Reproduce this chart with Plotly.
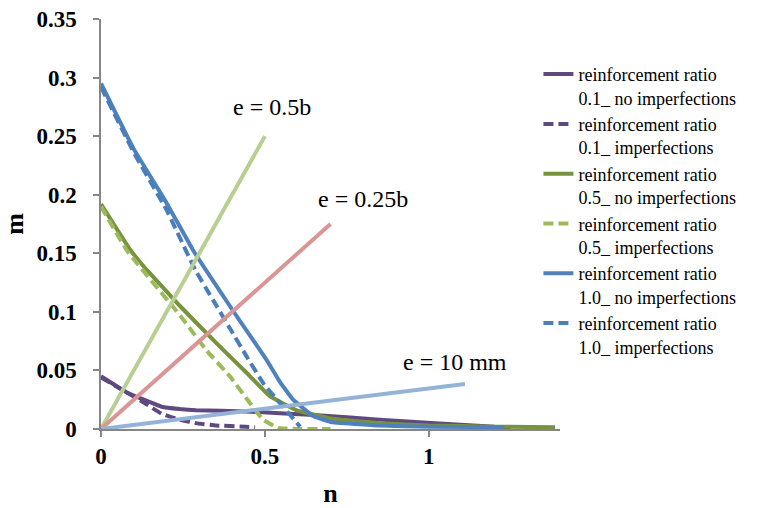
import plotly.graph_objects as go

# ---- data (n, m) ----
p_solid_n = [0, 0.08, 0.185, 0.24, 0.29, 0.44, 0.65, 0.85, 1.02, 1.2, 1.25]
p_solid_m = [0.045, 0.031, 0.019, 0.017, 0.016, 0.015, 0.012, 0.008, 0.005, 0.002, 0.0015]

p_dash_n = [0, 0.08, 0.134, 0.185, 0.24, 0.29, 0.35, 0.44, 0.47]
p_dash_m = [0.044, 0.031, 0.022, 0.013, 0.008, 0.005, 0.003, 0.002, 0.0015]

g_solid_n = [0, 0.089, 0.139, 0.241, 0.342, 0.444, 0.515, 0.597, 0.70, 0.85, 1.0, 1.2, 1.385]
g_solid_m = [0.192, 0.153, 0.136, 0.105, 0.076, 0.048, 0.028, 0.016, 0.009, 0.005, 0.003, 0.002, 0.0015]

g_dash_n = [0, 0.08, 0.241, 0.322, 0.393, 0.444, 0.494, 0.54, 0.6, 0.7]
g_dash_m = [0.19, 0.152, 0.097, 0.067, 0.045, 0.026, 0.008, 0.001, 0.0, 0.0]

b_solid_n = [0, 0.098, 0.2, 0.28, 0.393, 0.444, 0.505, 0.546, 0.586, 0.647, 0.70, 0.85, 1.0, 1.23]
b_solid_m = [0.295, 0.240, 0.193, 0.153, 0.105, 0.084, 0.059, 0.040, 0.025, 0.011, 0.006, 0.003, 0.002, 0.0015]

b_dash_n = [0, 0.1, 0.2, 0.287, 0.342, 0.393, 0.444, 0.495, 0.546, 0.58, 0.607]
b_dash_m = [0.292, 0.236, 0.187, 0.136, 0.110, 0.086, 0.062, 0.039, 0.022, 0.011, 0.002]

e05_n = [0, 0.5]
e05_m = [0, 0.25]
e025_n = [0, 0.7]
e025_m = [0, 0.175]
e10_n = [0, 1.11]
e10_m = [0, 0.0385]

names = [
    "reinforcement ratio<br>0.1_ no imperfections",
    "reinforcement ratio<br>0.1_ imperfections",
    "reinforcement ratio<br>0.5_ no imperfections",
    "reinforcement ratio<br>0.5_ imperfections",
    "reinforcement ratio<br>1.0_ no imperfections",
    "reinforcement ratio<br>1.0_ imperfections",
]

x_ticks = [0, 0.5, 1]
y_ticks = [0, 0.05, 0.1, 0.15, 0.2, 0.25, 0.3, 0.35]
y_tick_text = ["0", "0.05", "0.1", "0.15", "0.2", "0.25", "0.3", "0.35"]

FONT = "Liberation Serif, Times New Roman, serif"
DASH = "10px,5px"
LW = 4

fig = go.Figure()
series = [
    (p_solid_n, p_solid_m, "#5E4A7E", "solid"),
    (p_dash_n, p_dash_m, "#5E4A7E", DASH),
    (g_solid_n, g_solid_m, "#77933C", "solid"),
    (g_dash_n, g_dash_m, "#9BBB59", DASH),
    (b_solid_n, b_solid_m, "#4F81BD", "solid"),
    (b_dash_n, b_dash_m, "#4A7EBB", DASH),
]
for (xs, ys, col, dash), nm in zip(series, names):
    fig.add_trace(go.Scatter(x=xs, y=ys, mode="lines", name=nm,
                             line=dict(color=col, width=LW, dash=dash, shape="spline", smoothing=0.25)))

for xs, ys, col in [(e05_n, e05_m, "#B7CF93"), (e025_n, e025_m, "#D99694"), (e10_n, e10_m, "#95B3D7")]:
    fig.add_trace(go.Scatter(x=xs, y=ys, mode="lines", showlegend=False,
                             line=dict(color=col, width=LW)))

ann_font = dict(family=FONT, size=24, color="black")
fig.add_annotation(x=0.521, y=0.275, text="e = 0.5b", showarrow=False, font=ann_font)
fig.add_annotation(x=0.80, y=0.196, text="e = 0.25b", showarrow=False, font=ann_font)
fig.add_annotation(x=1.079, y=0.057, text="e = 10 mm", showarrow=False, font=ann_font)

axis_common = dict(showgrid=False, zeroline=False, showline=True, linecolor="#868686",
                   linewidth=1.5, ticks="outside", ticklen=6, tickcolor="#868686", tickwidth=1.5,
                   automargin=False,
                   tickfont=dict(family=FONT, size=23, color="black", weight="bold"))

fig.update_xaxes(range=[0, 1.4], tickvals=x_ticks, ticktext=[str(v) for v in x_ticks],
                 ticklabelstandoff=0,
                 title=dict(text="<b>n</b>", font=dict(family=FONT, size=26, color="black"), standoff=16),
                 **axis_common)
fig.update_yaxes(range=[0, 0.35], tickvals=y_ticks, ticktext=y_tick_text,
                 ticklabelstandoff=12,
                 title=dict(text="<b>m</b>", font=dict(family=FONT, size=26, color="black"), standoff=8),
                 **axis_common)

fig.update_layout(
    width=777, height=508,
    margin=dict(l=101, r=217, t=19, b=79),
    paper_bgcolor="white", plot_bgcolor="white",
    font=dict(family=FONT, color="black"),
    showlegend=True,
    legend=dict(x=0.953, xanchor="left", y=0.91, yanchor="top", valign="top",
                font=dict(family=FONT, size=18, color="black"),
                bgcolor="rgba(0,0,0,0)", borderwidth=0, tracegroupgap=0),
)

fig.write_html("out.html", config={"displayModeBar": False},
               post_script="document.body.style.margin='0';document.body.style.padding='0';")
